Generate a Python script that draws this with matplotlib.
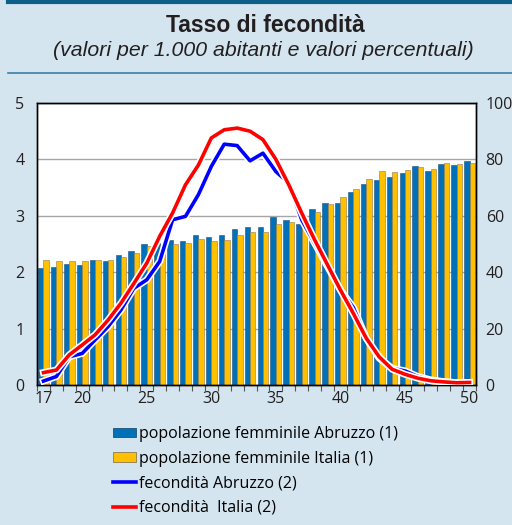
"""Tasso di fecondita: popolazione femminile (barre) e fecondita (linee) per eta."""

import numpy as np
import matplotlib.pyplot as plt
import matplotlib.patheffects as pe
from matplotlib.patches import Patch
from matplotlib.lines import Line2D


AGES = list(range(17, 51))

POP_ABRUZZO = [
    2.07, 2.09, 2.15, 2.13, 2.21, 2.20, 2.31, 2.38, 2.50, 2.52,
    2.57, 2.56, 2.66, 2.62, 2.66, 2.76, 2.80, 2.80, 2.98, 2.93,
    2.85, 3.12, 3.22, 3.22, 3.42, 3.56, 3.63, 3.69, 3.76, 3.88,
    3.80, 3.92, 3.90, 3.98,
]
POP_ITALIA = [
    2.22, 2.20, 2.20, 2.20, 2.21, 2.22, 2.27, 2.34, 2.46, 2.46,
    2.50, 2.52, 2.59, 2.56, 2.57, 2.66, 2.72, 2.71, 2.86, 2.89,
    2.82, 3.06, 3.21, 3.33, 3.47, 3.65, 3.80, 3.78, 3.81, 3.86,
    3.83, 3.93, 3.92, 3.94,
]
FEC_ABRUZZO = [
    1.4, 3.0, 10.0, 11.2, 16.0, 20.7, 26.6, 34.3, 37.3, 43.8,
    58.6, 59.8, 67.5, 77.5, 85.4, 84.9, 79.5, 82.2, 75.7, 71.6,
    58.6, 50.3, 42.0, 33.7, 27.5, 16.6, 9.5, 5.9, 5.0, 3.0,
    1.8, 1.2, 0.8, 0.9,
]
FEC_ITALIA = [
    4.4, 5.3, 10.7, 14.2, 17.8, 23.0, 29.0, 36.0, 43.2, 52.7,
    61.0, 71.0, 78.0, 87.6, 90.5, 91.1, 90.0, 87.0, 80.0, 71.0,
    61.0, 51.5, 42.6, 33.7, 25.4, 16.6, 10.0, 5.6, 3.8, 2.4,
    1.5, 1.1, 0.8, 0.9,
]
TICK_AGES = [17, 20, 25, 30, 35, 40, 45, 50]

BG_COLOR = '#d4e5ef'
BLUE_BAR = '#0070b8'
YELLOW_BAR = '#ffc000'
BAR_WIDTH = 0.42


def main():
    fig = plt.figure(figsize = (5.12, 5.25), dpi = 100)
    fig.patch.set_facecolor(BG_COLOR)

    # header rules and titles
    fig.add_artist(Line2D([8 / 512, 1.0], [0.997, 0.997], color = '#0b5f88', linewidth = 3))
    fig.add_artist(Line2D([8 / 512, 1.0], [1 - 73 / 525, 1 - 73 / 525], color = '#3d7eaa', linewidth = 1.2))
    fig.text(0.518, 1 - 25.5 / 525, 'Tasso di fecondità', ha = 'center', va = 'center',
             fontsize = 16.5, fontweight = 'bold', family = 'Liberation Sans', color = '#231f20')
    fig.text(0.515, 1 - 50 / 525, '(valori per 1.000 abitanti e valori percentuali)',
             ha = 'center', va = 'center', fontsize = 15.3, style = 'italic',
             family = 'Liberation Sans', color = '#231f20')

    ax = fig.add_axes([37 / 512, 1 - 385 / 525, 439 / 512, 282 / 525])
    ax.set_facecolor('white')
    x = np.arange(len(AGES))

    ax.bar(x - BAR_WIDTH / 2, POP_ABRUZZO, BAR_WIDTH, color = BLUE_BAR,
           edgecolor = '#1f4e79', linewidth = 0.4, zorder = 2)
    ax.bar(x + BAR_WIDTH / 2, POP_ITALIA, BAR_WIDTH, color = YELLOW_BAR,
           edgecolor = '#8c7a50', linewidth = 0.4, zorder = 2)

    ax.set_ylim(0, 5)
    ax.set_xlim(-0.5, len(AGES) - 0.5)
    ax.set_yticks(range(0, 6))
    ax.grid(axis = 'y', color = '#a6a6a6', linewidth = 1, zorder = 0)
    ax.set_axisbelow(True)

    ax.set_xticks([AGES.index(a) for a in TICK_AGES])
    ax.set_xticklabels([str(a) for a in TICK_AGES])
    ax.set_xticks(np.arange(-0.5, len(AGES), 1), minor = True)
    ax.tick_params(axis = 'x', which = 'major', length = 0, pad = 4, labelsize = 11.5)
    ax.tick_params(axis = 'x', which = 'minor', length = 4, color = '#555555', width = 0.8)
    ax.tick_params(axis = 'y', length = 0, pad = 9, labelsize = 11.5)

    ax2 = ax.twinx()
    ax2.set_ylim(0, 100)
    ax2.set_yticks(range(0, 101, 20))
    ax2.tick_params(axis = 'y', length = 0, pad = 7, labelsize = 11.5)

    halo = [pe.withStroke(linewidth = 5, foreground = 'white')]
    ax2.plot(x, FEC_ABRUZZO, color = '#0000ff', linewidth = 2.6,
             solid_joinstyle = 'round', path_effects = halo, zorder = 3)
    ax2.plot(x, FEC_ITALIA, color = '#ff0000', linewidth = 2.6,
             solid_joinstyle = 'round', path_effects = halo, zorder = 4)

    for axis in (ax, ax2):
        for spine in axis.spines.values():
            spine.set_color('black')
            spine.set_linewidth(1)
        for label in axis.get_xticklabels() + axis.get_yticklabels():
            label.set_family('Open Sans')
            label.set_color('#231f20')

    handles = [
        Patch(facecolor = BLUE_BAR, edgecolor = '#1f4e79', linewidth = 0.6),
        Patch(facecolor = YELLOW_BAR, edgecolor = '#8c7a50', linewidth = 0.6),
        Line2D([], [], color = '#0000ff', linewidth = 2.6),
        Line2D([], [], color = '#ff0000', linewidth = 2.6),
    ]
    labels = [
        'popolazione femminile Abruzzo (1)',
        'popolazione femminile Italia (1)',
        'fecondità Abruzzo (2)',
        'fecondità  Italia (2)',
    ]
    fig.legend(handles, labels, loc = 'upper left', bbox_to_anchor = (113 / 512, 1 - 426 / 525),
               frameon = False, prop = {'family': 'Open Sans', 'size': 11.5},
               handlelength = 1.45, handleheight = 0.55, handletextpad = 0.15,
               labelspacing = 0.54, borderaxespad = 0, borderpad = 0)

    fig.savefig('out.png', dpi = 100, facecolor = BG_COLOR)
    plt.close(fig)


if __name__ == '__main__':
    main()
